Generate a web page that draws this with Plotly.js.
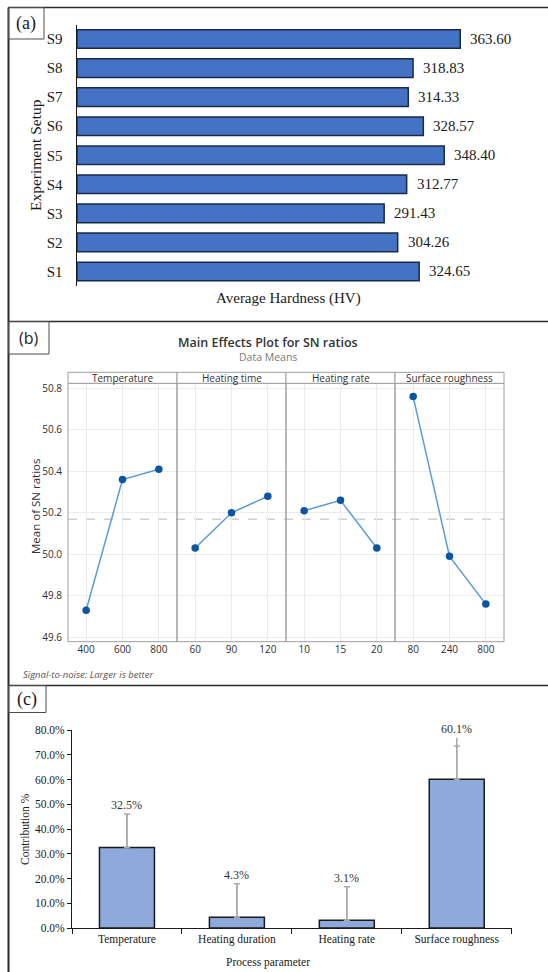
<!DOCTYPE html>
<html>
<head>
<meta charset="utf-8">
<script src="https://cdn.plot.ly/plotly-3.0.1.min.js"></script>
<style>
  html, body { margin: 0; padding: 0; background: #ffffff; }
  #fig { width: 548px; height: 972px; }
</style>
</head>
<body>
<div id="fig"></div>
<script>
// ---- (a) average hardness per experiment setup ----
const hardSetups = ['S1', 'S2', 'S3', 'S4', 'S5', 'S6', 'S7', 'S8', 'S9'];
const hardValues = [324.65, 304.26, 291.43, 312.77, 348.40, 328.57, 314.33, 318.83, 363.60];

// ---- (b) main effects for S/N ratios (data means) ----
const snFactors = ['Temperature', 'Heating time', 'Heating rate', 'Surface roughness'];
const snLevelsTemperature = ['400', '600', '800'];
const snLevelsHeatingTime = ['60', '90', '120'];
const snLevelsHeatingRate = ['10', '15', '20'];
const snLevelsRoughness = ['80', '240', '800'];
const snMeansTemperature = [49.73, 50.36, 50.41];
const snMeansHeatingTime = [50.03, 50.20, 50.28];
const snMeansHeatingRate = [50.21, 50.26, 50.03];
const snMeansRoughness = [50.76, 49.99, 49.76];
const snYTicks = [49.6, 49.8, 50.0, 50.2, 50.4, 50.6, 50.8];

// ---- (c) percentage contribution of each process parameter ----
const contribParams = ['Temperature', 'Heating duration', 'Heating rate', 'Surface roughness'];
const contribValues = [32.5, 4.3, 3.1, 60.1];
const contribErrCap = [13.6, 13.6, 13.6, 13.4];
const contribErrStem = [13.6, 13.6, 13.6, 16.8];
const contribYTicks = [0, 10, 20, 30, 40, 50, 60, 70, 80];

// page geometry helpers (pixel -> paper fraction)
const W = 548, H = 972;
const X = px => px / W;
const Y = py => 1 - py / H;

const SERIF = 'Liberation Serif, Times New Roman, serif';
const SANS = 'Open Sans, Noto Sans, sans-serif';

const traces = [];
const shapes = [];
const annotations = [];

// centred free text placed at a pixel position
function label(px, py, text, font, extra) {
  annotations.push(Object.assign({
    xref: 'paper', yref: 'paper', x: X(px), y: Y(py),
    xanchor: 'center', yanchor: 'middle',
    text: text, showarrow: false, font: font
  }, extra || {}));
}

// ===== panel (a) =====
traces.push({
  type: 'bar', orientation: 'h',
  x: hardValues, y: hardSetups,
  xaxis: 'x', yaxis: 'y',
  width: 0.64,
  marker: { color: '#4472C4', line: { color: '#1b2a47', width: 1.5 } },
  hoverinfo: 'skip'
});
hardValues.forEach((v, i) => {
  annotations.push({
    xref: 'x', yref: 'y', x: v, y: hardSetups[i],
    text: v.toFixed(2), showarrow: false,
    xanchor: 'left', yanchor: 'middle', xshift: 8,
    font: { family: SERIF, size: 15, color: '#1a1a1a' }
  });
});
label(36, 155, 'Experiment Setup', { family: SERIF, size: 15.5, color: '#1a1a1a' }, { textangle: -90 });
label(288, 298, 'Average Hardness (HV)', { family: SERIF, size: 15, color: '#1a1a1a' });

// ===== panel (b) =====
const snLevels = [snLevelsTemperature, snLevelsHeatingTime, snLevelsHeatingRate, snLevelsRoughness];
const snMeans = [snMeansTemperature, snMeansHeatingTime, snMeansHeatingRate, snMeansRoughness];
const allMeans = [].concat(...snMeans);
const grandMean = allMeans.reduce((a, b) => a + b, 0) / allMeans.length;

const bLeft = 68, bRight = 504, bTop = 383.3, bBottom = 641.7, stripTop = 372.3;
const bW = (bRight - bLeft) / snFactors.length;
const bScale = 207.5; // px per unit
const yLow = 49.6 - (bBottom - 637.3) / bScale;
const yHigh = 50.8 + (388.3 - bTop) / bScale;

snFactors.forEach((f, k) => {
  const ax = 'x' + (k + 2);
  traces.push({
    type: 'scatter', mode: 'lines+markers',
    x: snLevels[k], y: snMeans[k],
    xaxis: ax, yaxis: 'y2',
    line: { color: '#5b9bd5', width: 1.5 },
    marker: { color: '#0b55a3', size: 7.5 },
    hoverinfo: 'skip'
  });
  // panel frame
  shapes.push({
    type: 'rect', xref: ax + ' domain', yref: 'paper',
    x0: 0, x1: 1, y0: Y(bBottom), y1: Y(bTop),
    line: { color: '#9e9e9e', width: 1 }, layer: 'above'
  });
  // strip header
  shapes.push({
    type: 'rect', xref: ax + ' domain', yref: 'paper',
    x0: 0, x1: 1, y0: Y(bTop), y1: Y(stripTop),
    line: { color: '#9e9e9e', width: 1 }, fillcolor: '#ffffff', layer: 'above'
  });
  annotations.push({
    xref: ax + ' domain', yref: 'paper', x: 0.5, y: Y((bTop + stripTop) / 2),
    xanchor: 'center', yanchor: 'middle',
    text: f, showarrow: false,
    font: { family: SANS, size: 10, color: '#333333' }
  });
});
// grand mean reference
shapes.push({
  type: 'line', xref: 'paper', yref: 'y2',
  x0: X(bLeft), x1: X(bRight), y0: grandMean, y1: grandMean,
  line: { color: '#cfcfcf', width: 1.5, dash: 'dash' }, layer: 'below'
});
label(268, 342, 'Main Effects Plot for SN ratios', { family: SANS, size: 12.5, color: '#333333', weight: 600 });
label(268, 357, 'Data Means', { family: SANS, size: 10.5, color: '#7a7a7a' });
label(35, 507, 'Mean of SN ratios', { family: SANS, size: 11.5, color: '#333333' }, { textangle: -90 });
label(21, 674, '<i>Signal-to-noise: Larger is better</i>', { family: SANS, size: 9.5, color: '#555555' }, { xanchor: 'left' });

// ===== panel (c) =====
traces.push({
  type: 'bar', x: contribParams, y: contribValues,
  xaxis: 'x6', yaxis: 'y3', width: 0.5,
  marker: { color: '#8EAADB', line: { color: '#1a1a1a', width: 1.5 } },
  error_y: { type: 'data', symmetric: false, array: contribErrCap,
             arrayminus: contribValues.map(() => 0),
             color: '#a9a9a9', thickness: 1.5, width: 3 },
  hoverinfo: 'skip'
});
traces.push({
  type: 'scatter', mode: 'markers', x: contribParams, y: contribValues,
  xaxis: 'x6', yaxis: 'y3',
  marker: { opacity: 0, size: 1 },
  error_y: { type: 'data', symmetric: false, array: contribErrStem,
             arrayminus: contribValues.map(() => 0),
             color: '#a9a9a9', thickness: 1.5, width: 0 },
  hoverinfo: 'skip'
});
contribValues.forEach((v, i) => {
  annotations.push({
    xref: 'x6', yref: 'y3', x: contribParams[i],
    y: v + Math.max(contribErrCap[i], contribErrStem[i]),
    text: v.toFixed(1) + '%', showarrow: false,
    xanchor: 'center', yanchor: 'middle', yshift: 9,
    font: { family: SERIF, size: 12, color: '#333333' }
  });
});
label(25, 829, 'Contribution %', { family: SERIF, size: 11.5, color: '#1a1a1a' }, { textangle: -90 });
label(268, 962, 'Process parameter', { family: SERIF, size: 11.5, color: '#1a1a1a' });

// ===== figure frame and panel tags =====
const frameColor = '#2b2b2b';
[7.5, 321.5, 685.5].forEach(py => {
  shapes.push({ type: 'line', xref: 'paper', yref: 'paper',
    x0: X(8), x1: 1, y0: Y(py), y1: Y(py), line: { color: frameColor, width: 1.5 } });
});
shapes.push({ type: 'line', xref: 'paper', yref: 'paper',
  x0: X(8.5), x1: X(8.5), y0: 0, y1: Y(7.5), line: { color: frameColor, width: 2 } });

const tags = [
  { t: '(a)', x0: 8.5, x1: 44, y0: 7.5, y1: 39, fam: SERIF, size: 18 },
  { t: '(b)', x0: 8.5, x1: 49, y0: 321.5, y1: 354, fam: SANS, size: 16 },
  { t: '(c)', x0: 8.5, x1: 46, y0: 685.5, y1: 712.5, fam: SERIF, size: 18 }
];
tags.forEach(g => {
  shapes.push({ type: 'rect', xref: 'paper', yref: 'paper',
    x0: X(g.x0), x1: X(g.x1), y0: Y(g.y1), y1: Y(g.y0),
    line: { color: '#4d4d4d', width: 1 } });
  label((g.x0 + g.x1) / 2, (g.y0 + g.y1) / 2, g.t, { family: g.fam, size: g.size, color: '#1a1a1a' });
});

// ===== axes =====
const aScale = 1.054; // px per HV
const layout = {
  width: W, height: H,
  margin: { l: 0, r: 0, t: 0, b: 0 },
  paper_bgcolor: '#ffffff', plot_bgcolor: 'rgba(0,0,0,0)',
  showlegend: false,
  font: { family: SERIF, color: '#1a1a1a' },
  shapes: shapes, annotations: annotations,

  xaxis: { domain: [X(77), X(505)], range: [0, (505 - 77) / aScale],
           visible: false, anchor: 'y', fixedrange: true },
  yaxis: { domain: [Y(286), Y(24.5)], type: 'category', categoryarray: hardSetups,
           range: [-0.5, hardSetups.length - 0.5], anchor: 'x',
           showline: true, linecolor: '#1a1a1a', linewidth: 1.5,
           showgrid: false, zeroline: false,
           ticks: 'outside', ticklen: 10, tickcolor: 'rgba(0,0,0,0)',
           tickfont: { family: SERIF, size: 15, color: '#1a1a1a' }, fixedrange: true },

  yaxis2: { domain: [Y(bBottom), Y(bTop)], range: [yLow, yHigh], anchor: 'x2',
            tickmode: 'array', tickvals: snYTicks, ticktext: snYTicks.map(v => v.toFixed(1)),
            showgrid: true, gridcolor: '#ebebeb', gridwidth: 1,
            zeroline: false, showline: false,
            ticks: 'outside', ticklen: 3, tickcolor: 'rgba(0,0,0,0)',
            tickfont: { family: SANS, size: 10, color: '#2e2e2e' }, fixedrange: true },

  xaxis6: { domain: [X(72), X(511.7)], type: 'category', anchor: 'y3',
            range: [-0.5, contribParams.length - 0.5],
            showline: true, linecolor: '#1a1a1a', linewidth: 1,
            ticks: 'outside', ticklen: 5, tickcolor: '#1a1a1a', tickson: 'boundaries',
            showgrid: false, zeroline: false,
            tickfont: { family: SERIF, size: 11.5, color: '#1a1a1a' }, fixedrange: true },
  yaxis3: { domain: [Y(928), Y(730)], range: [0, 80], anchor: 'x6',
            tickmode: 'array', tickvals: contribYTicks,
            ticktext: contribYTicks.map(v => v.toFixed(1) + '%'),
            showline: true, linecolor: '#1a1a1a', linewidth: 1,
            ticks: 'outside', ticklen: 4, tickcolor: '#1a1a1a',
            showgrid: false, zeroline: false,
            tickfont: { family: SERIF, size: 11.5, color: '#1a1a1a' }, fixedrange: true }
};
snFactors.forEach((f, k) => {
  layout['xaxis' + (k + 2)] = {
    domain: [X(bLeft + k * bW), X(bLeft + (k + 1) * bW)],
    type: 'category', range: [-0.5, 2.5], anchor: 'y2',
    showgrid: true, gridcolor: '#ebebeb', gridwidth: 1,
    zeroline: false, showline: false, ticks: '',
    tickfont: { family: SANS, size: 10, color: '#2e2e2e' }, fixedrange: true
  };
});

Plotly.newPlot('fig', traces, layout, { staticPlot: true, displayModeBar: false });
</script>
</body>
</html>
